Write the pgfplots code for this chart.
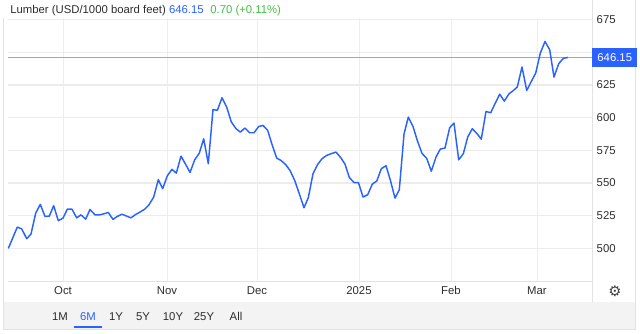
\documentclass[border=0pt]{standalone}
\usepackage{fontspec}
\setmainfont{Liberation Sans}
\newfontfamily\dejavu{DejaVu Sans}
\usepackage{pgfplots}
\pgfplotsset{compat=1.18}
\definecolor{lineblue}{RGB}{41,98,255}
\definecolor{refblue}{RGB}{140,162,255}
\definecolor{gridgray}{RGB}{236,236,236}
\definecolor{vgrid}{RGB}{233,239,247}
\definecolor{txt}{RGB}{45,45,45}
\definecolor{upgreen}{RGB}{70,190,70}
\definecolor{band}{RGB}{243,243,243}
\definecolor{framec}{RGB}{226,226,226}
\newcommand{\fs}{\fontsize{8.5}{10}\selectfont}
\pgfplotstableread{
x y
8.3 500
17.3 516.3
21.7 515
26.7 507.4
31 511
35.7 527
40.3 533.7
45 524.5
49.3 524.7
53.7 532.7
58.3 521.2
63 523.2
67.3 530
72 530
76.7 523.4
81 525.7
85.7 522.4
90 529.8
95 525.7
99.7 525.7
104 526.5
108.3 527.5
113 522.2
117.3 524.5
122 526.2
126.7 524.7
131 523.4
135.7 526
140 527.8
144.7 530
149 533.4
153.7 539.3
158.3 552.6
162.7 545.7
167.3 555.6
172 560.5
176.3 557.6
181 570.6
185.7 564.3
190 558.1
194.7 567.8
199.3 572.9
203.7 583.9
208.3 564.8
213 606.3
217.3 605.6
222 615.3
226.7 608.1
231.3 596.8
236 591.6
240.3 589
245 592.1
249.7 588.5
254 588.5
258.7 593.3
263 594.1
267.7 590.3
272 579.6
276.7 569.1
281 567.3
285.7 564.1
290 559.7
294.7 552
299.3 541.8
304 531.1
308.3 538.8
313 557.1
317.7 564.3
322 568.6
326.7 571.2
331.3 572.5
336 573.7
340.7 569.5
345 564.5
349.3 554.3
354 550.4
358.5 550.3
363 539.3
367.7 541.1
372.3 549.2
376.8 551.6
381.3 561
386 563.3
390.3 552.4
395 538.5
399.3 544.9
404 587.4
408.3 600.5
413 593.3
417.3 582.6
422 572.7
426.7 568.9
431.3 559.1
436 569.9
440.3 576
445 576.8
449.7 592.4
454 595.9
458.7 567.8
463.3 572.4
467.7 585.2
472.3 591.6
477 587.8
481.3 583.6
486 604.8
490.7 603.8
495.3 611.2
499.7 618
504.3 612.7
509 618.3
513 620.6
517.3 623.5
522 638.8
526.7 620.9
531 627.3
535.7 634.2
540.3 649.4
545 658.4
549.7 652
554 631.1
558.7 641.3
563.3 645.4
568 646.15
}\lumber
\begin{document}
\begin{tikzpicture}
\begin{scope}[x=0.75pt,y=-0.75pt]
\path (0,0) rectangle (640,333);
\fill[band] (3,302) rectangle (635,329);
\draw[framec, line width=0.6pt] (3,18) -- (3,329) -- (635,329) -- (635,0);
\draw[framec, line width=0.6pt] (592,0) -- (592,302);
\end{scope}
\begin{axis}[
  at={(6pt,-211.1pt)}, anchor=south west, scale only axis,
  width=438pt, height=197.6pt,
  xmin=8, xmax=592, ymin=474.4, ymax=676,
  axis line style={draw=none},
  major tick length=0,
  xtick={63,167,257,359,451,537},
  xticklabels={Oct,Nov,Dec,2025,Feb,Mar},
  ytick={500,525,550,575,600,625,650,675},
  yticklabel pos=right,
  xmajorgrids, ymajorgrids,
  x grid style={vgrid, line width=0.75pt},
  y grid style={gridgray, line width=1.1pt},
  ticklabel style={font=\fs, text=txt},
  /pgf/number format/assume math mode=true,
  clip=false,
]
\draw[framec, line width=0.75pt] (rel axis cs:0,0) -- (rel axis cs:1,0);
\addplot[refblue, line width=0.7pt] coordinates {(8,646.15) (592,646.15)};
\addplot[lineblue, line width=1.1pt, line join=round, mark=none] table[x=x,y=y] {\lumber};
\coordinate (lbl) at (axis cs:592,646.15);
\end{axis}
\node[fill=lineblue, text=white, anchor=west, minimum height=14.25pt, minimum width=33.75pt, inner sep=0pt, font=\fs] at (lbl) {646.15};
\begin{scope}[x=0.75pt,y=-0.75pt]
\node[anchor=west, inner sep=0pt, font=\fs, text=txt] at (10,10)
  {Lumber (USD/1000 board feet) \textcolor{lineblue}{646.15}\hspace{5pt}\textcolor{upgreen}{0.70 (+0.11\%)}};
\node[font=\fs, text=txt] at (60,316) {1M};
\node[font=\fs, text=lineblue] at (88,316) {6M};
\node[font=\fs, text=txt] at (116,316) {1Y};
\node[font=\fs, text=txt] at (143,316) {5Y};
\node[font=\fs, text=txt] at (173,316) {10Y};
\node[font=\fs, text=txt] at (204,316) {25Y};
\node[font=\fs, text=txt] at (236,316) {All};
\draw[lineblue, line width=1.5pt] (74,327) -- (102,327);
\node[font=\dejavu\fontsize{11}{12}\selectfont, text=darkgray] at (615,291) {⚙};
\end{scope}
\end{tikzpicture}
\end{document}
